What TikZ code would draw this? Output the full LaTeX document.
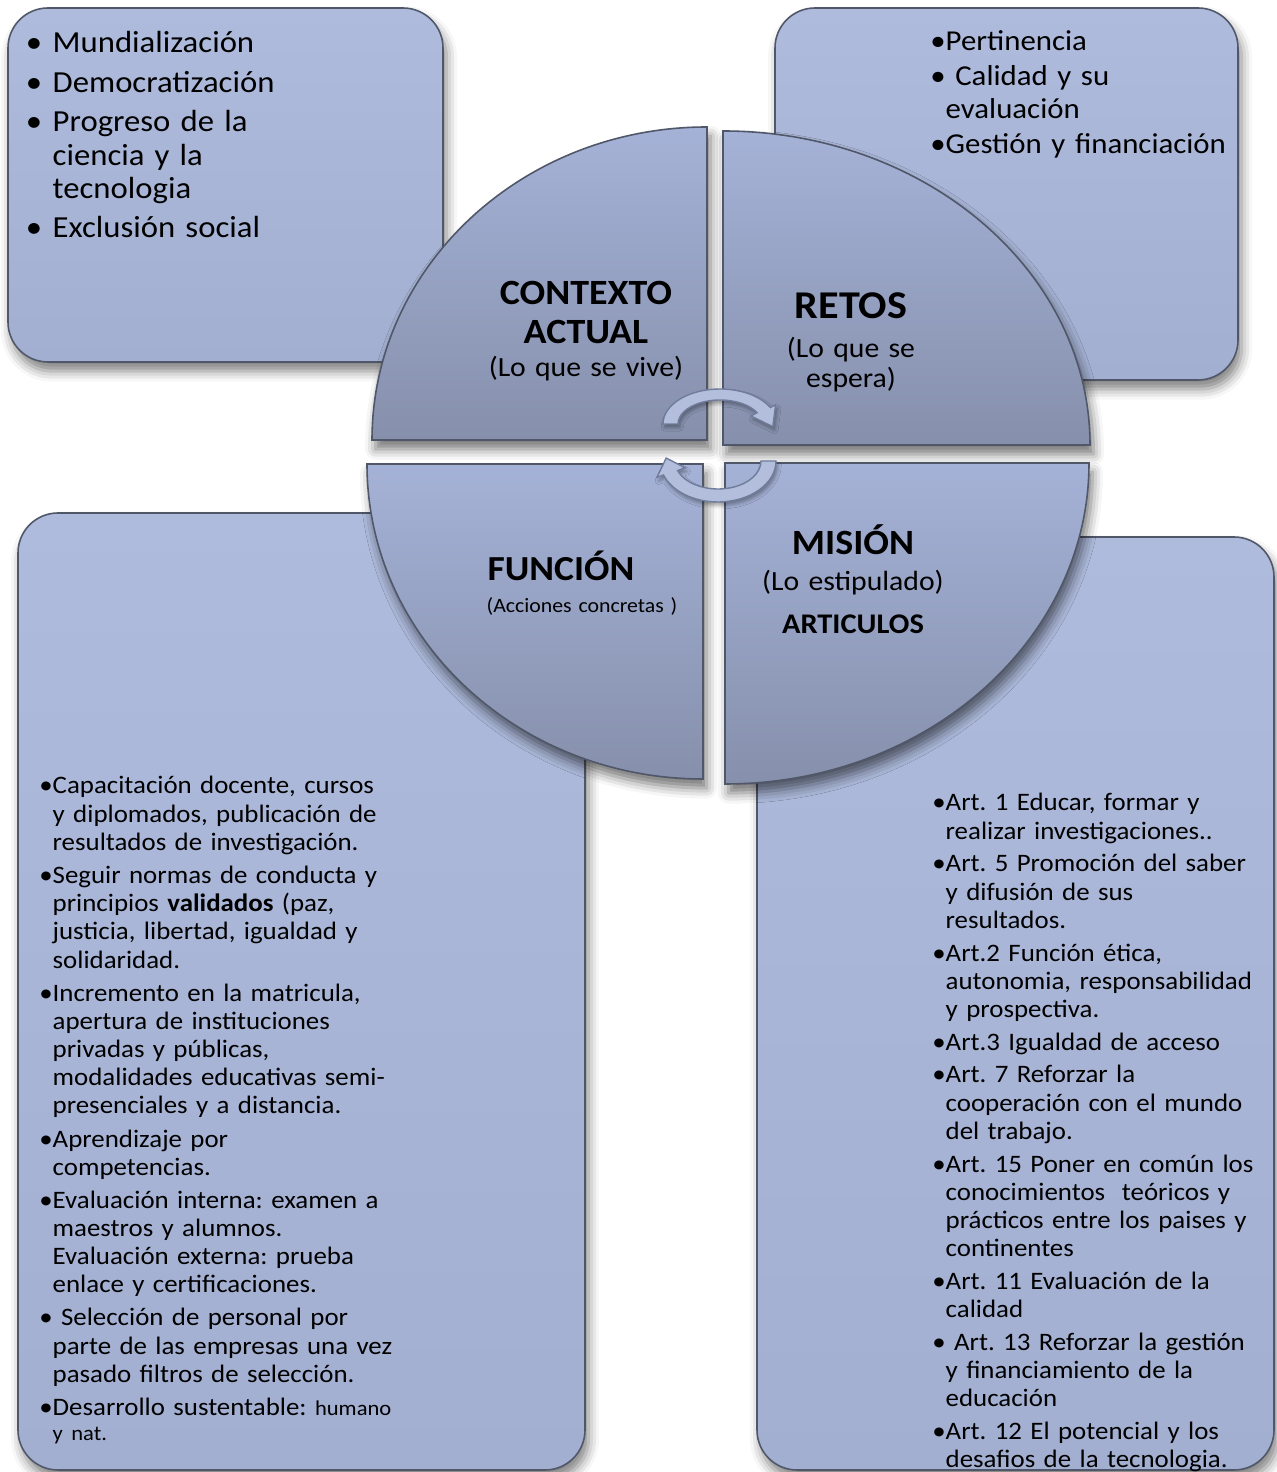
\documentclass[tikz,border=0pt]{standalone}
\usepackage{fontspec}
\setmainfont{Carlito}[FakeStretch=1.07]
\usetikzlibrary{calc, shadows.blur}

\definecolor{cajaA}{HTML}{AEBBDC}
\definecolor{cajaB}{HTML}{A2AFD1}
\definecolor{sectorA}{HTML}{A5B2D7}
\definecolor{sectorB}{HTML}{8690AC}
\definecolor{borde}{HTML}{4F5768}
\definecolor{flecha}{HTML}{B3BEDC}
\definecolor{flechaB}{HTML}{6F7C9B}

\newcommand{\bul}{\leavevmode\llap{•}}
\newcommand{\bulA}{\leavevmode\llap{•\hspace{3pt}}}

\begin{document}
\frenchspacing
\begin{tikzpicture}[
    caja/.style   = {draw=borde, line width=0.45pt, rounded corners=4mm,
                     top color=cajaA, bottom color=cajaB,
                     blur shadow={shadow xshift=1pt, shadow yshift=-2.6pt,
                                  shadow blur radius=3pt, shadow opacity=50}},
    sector/.style = {draw=borde, line width=0.45pt,
                     top color=sectorA, bottom color=sectorB,
                     blur shadow={shadow xshift=1pt, shadow yshift=-2.6pt,
                                  shadow blur radius=3pt, shadow opacity=55}},
    giro/.style   = {draw=flechaB, line width=0.4pt, fill=flecha,
                     blur shadow={shadow xshift=0.5pt, shadow yshift=-1pt,
                                  shadow blur radius=1pt, shadow opacity=35}},
    lista/.style  = {anchor=base west, inner sep=0pt, text width=4.5cm, align=left},
    titulo/.style = {anchor=base, inner sep=0pt, text width=3.2cm, align=center},
  ]

  \useasboundingbox (0,0) rectangle (12.77,14.72);

  % ---------- cajas de fondo ----------
  \draw[caja] (0.08,11.10) rectangle (4.43,14.64);   % contexto
  \draw[caja] (7.75,10.92) rectangle (12.38,14.64);  % retos
  \draw[caja] (0.18,0.02)  rectangle (5.85,9.59);    % funcion
  \draw[caja] (7.57,0.02)  rectangle (12.74,9.35);   % mision

  % ---------- esquinas de los cuatro cuadrantes ----------
  \coordinate (cTL) at (7.07,10.32);
  \coordinate (cTR) at (7.23,10.27);
  \coordinate (cBL) at (7.03,10.08);
  \coordinate (cBR) at (7.25,10.09);

  \draw[sector] (cTL) -- ++(0,3.13)  arc (90:180:3.35 and 3.13)  -- cycle;
  \draw[sector] (cTR) -- ++(3.67,0)  arc (0:90:3.67 and 3.14)    -- cycle;
  \draw[sector] (cBL) -- ++(-3.36,0) arc (180:270:3.36 and 3.15) -- cycle;
  \draw[sector] (cBR) -- ++(0,-3.21) arc (270:360:3.64 and 3.21) -- cycle;

  % ---------- flechas de giro ----------
  \coordinate (cUp)   at (7.20,10.48);
  \coordinate (cDown) at (7.18,10.11);

  \draw[giro] ($(cUp)+(180:0.57 and 0.35)$) arc (180:28:0.57 and 0.35)
        -- ($(cUp)+(28:0.63 and 0.41)$) -- ($(cUp)+(-5:0.53 and 0.30)$)
        -- ($(cUp)+(28:0.35 and 0.17)$) -- ($(cUp)+(28:0.42 and 0.24)$)
        arc (28:180:0.42 and 0.24) -- cycle;
  \draw[giro] ($(cDown)+(0:0.58 and 0.41)$) arc (0:-160:0.58 and 0.41)
        -- ($(cDown)+(-160:0.65 and 0.48)$) -- ($(cDown)+(175:0.52 and 0.34)$)
        -- ($(cDown)+(-160:0.35 and 0.20)$) -- ($(cDown)+(-160:0.43 and 0.28)$)
        arc (-160:0:0.43 and 0.28) -- cycle;

  % ---------- titulos de los cuadrantes ----------
  \node[titulo, font=\bfseries\fontsize{10.1}{11.06}\selectfont] (contexto) at (5.86,11.67)
        {CONTEXTO\\ACTUAL};
  \node[titulo, font=\fontsize{7.9}{8.5}\selectfont] (contextoSub) at (5.86,10.95)
        {(Lo que se vive)};
  \node[titulo, font=\bfseries\fontsize{11.2}{12}\selectfont] (retos) at (8.51,11.53) {RETOS};
  \node[titulo, font=\fontsize{7.9}{8.5}\selectfont] (retosSub) at (8.51,11.14)
        {(Lo que se\\espera)};
  \node[titulo, font=\bfseries\fontsize{10}{11}\selectfont] (funcion) at (5.61,8.91) {FUNCIÓN};
  \node[titulo, font=\fontsize{5.8}{7}\selectfont] (funcionSub) at (5.82,8.59)
        {(Acciones concretas )};
  \node[titulo, font=\bfseries\fontsize{10.1}{11}\selectfont] (mision) at (8.53,9.17) {MISIÓN};
  \node[titulo, font=\fontsize{7.9}{8.5}\selectfont] (misionSub) at (8.53,8.81)
        {(Lo estipulado)};
  \node[titulo, font=\bfseries\fontsize{8.1}{9}\selectfont] (articulos) at (8.53,8.38)
        {ARTICULOS};

  % ---------- listas ----------
  \node[lista, font=\fontsize{8.7}{9.5}\selectfont] (contextoLista) at (0.52,14.19) {%
    \bulA Mundialización\\[1.7pt]
    \bulA Democratización\\[1.7pt]
    \bulA Progreso de la\\ciencia y la\\tecnologia\\[1.7pt]
    \bulA Exclusión social};

  \node[lista, font=\fontsize{8.2}{9.36}\selectfont] (retosLista) at (9.45,14.21) {%
    \bul Pertinencia\\[0.6pt]
    \bul\ Calidad y su\\evaluación\\[0.6pt]
    \bul Gestión y financiación};

  \node[lista, font=\fontsize{7.15}{8.02}\selectfont] (funcionLista) at (0.52,6.78) {%
    \bul Capacitación docente, cursos\\
    y diplomados, publicación de\\
    resultados de investigación.\\[1.4pt]
    \bul Seguir normas de conducta y\\
    principios \textbf{validados} (paz,\\
    justicia, libertad, igualdad y\\
    solidaridad.\\[1.4pt]
    \bul Incremento en la matricula,\\
    apertura de instituciones\\
    privadas y públicas,\\
    modalidades educativas semi-\\
    presenciales y a distancia.\\[1.4pt]
    \bul Aprendizaje por\\
    competencias.\\[1.4pt]
    \bul Evaluación interna: examen a\\
    maestros y alumnos.\\
    Evaluación externa: prueba\\
    enlace y certificaciones.\\[1.4pt]
    \bul\ Selección de personal por\\
    parte de las empresas una vez\\
    pasado filtros de selección.\\[1.4pt]
    \bul Desarrollo sustentable: {\fontsize{6}{7}\selectfont humano}\\[-0.9pt]
    {\fontsize{6}{7}\selectfont y nat.}};

  \node[lista, font=\fontsize{7.15}{8.02}\selectfont] (misionLista) at (9.45,6.61) {%
    \bul Art. 1 Educar, formar y\\
    realizar investigaciones..\\[1.3pt]
    \bul Art. 5 Promoción del saber\\
    y difusión de sus\\
    resultados.\\[1.3pt]
    \bul Art.2 Función ética,\\
    autonomia, responsabilidad\\
    y prospectiva.\\[1.3pt]
    \bul Art.3 Igualdad de acceso\\[1.3pt]
    \bul Art. 7 Reforzar la\\
    cooperación con el mundo\\
    del trabajo.\\[1.3pt]
    \bul Art. 15 Poner en común los\\
    conocimientos~ teóricos y\\
    prácticos entre los paises y\\
    continentes\\[1.3pt]
    \bul Art. 11 Evaluación de la\\
    calidad\\[1.3pt]
    \bul\ Art. 13 Reforzar la gestión\\
    y financiamiento de la\\
    educación\\[1.3pt]
    \bul Art. 12 El potencial y los\\
    desafios de la tecnologia.};

\end{tikzpicture}
\end{document}
